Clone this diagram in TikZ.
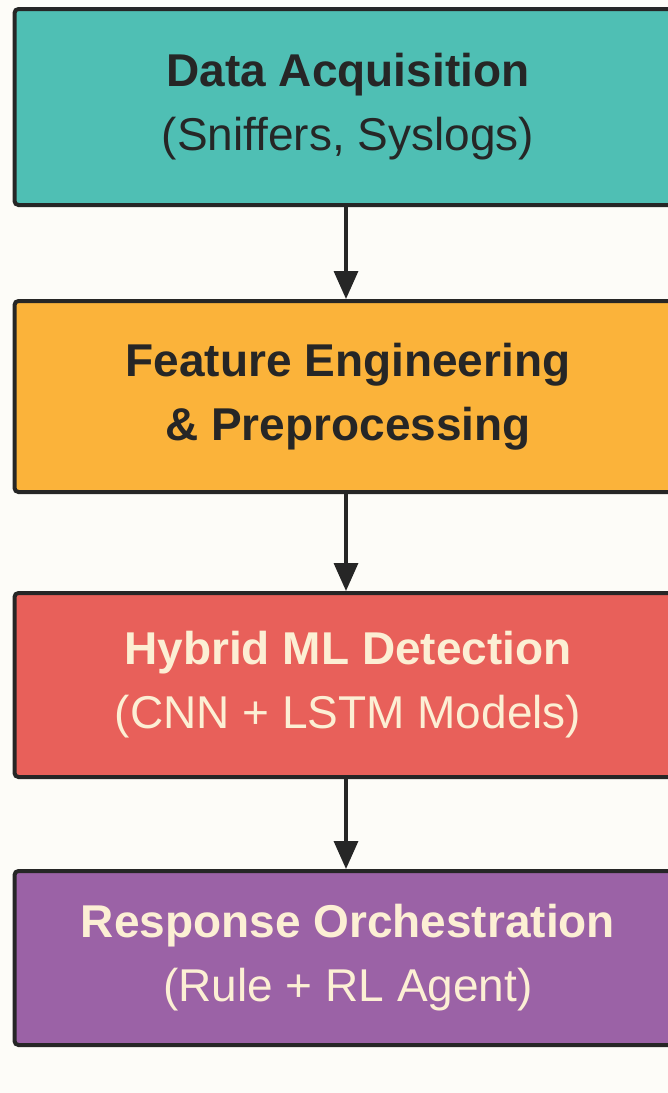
\documentclass[tikz,border=0pt]{standalone}
\usepackage{fontspec}
\setmainfont{Liberation Sans}
\usetikzlibrary{arrows.meta}

\definecolor{paper}{HTML}{FDFCF8}
\definecolor{edge}{HTML}{262626}
\definecolor{tealbox}{HTML}{4FBFB4}
\definecolor{orangebox}{HTML}{FBB33A}
\definecolor{redbox}{HTML}{E8605A}
\definecolor{purplebox}{HTML}{9B62A6}
\definecolor{cream}{HTML}{FCEFD4}

\begin{document}
\begin{tikzpicture}[
    x=0.5pt, y=-0.5pt,
    stage/.style={rectangle, rounded corners=2pt, draw=edge, line width=2pt,
                  minimum width=333.5pt, text centered, align=center,
                  font=\fontsize{23}{32}\selectfont, text=edge},
    flow/.style={draw=edge, line width=1.7pt, -{Triangle[width=12pt,length=14pt]}}
]

% Page
\fill[paper] (0,0) rectangle (668,1093);
\useasboundingbox (0,0) rectangle (668,1093);

% Stages
\node[stage, fill=tealbox, minimum height=98pt] (acq) at (348,107)
    {\textbf{Data Acquisition}\\(Sniffers, Syslogs)};
\node[stage, fill=orangebox, minimum height=95.5pt] (feat) at (348,396.5)
    {\textbf{Feature Engineering}\\\textbf{\& Preprocessing}};
\node[stage, fill=redbox, minimum height=92pt, text=cream] (detect) at (348,685)
    {\textbf{Hybrid ML Detection}\\(CNN + LSTM Models)};
\node[stage, fill=purplebox, minimum height=87pt, text=cream] (resp) at (348,958)
    {\textbf{Response Orchestration}\\(Rule + RL Agent)};

% Arrows
\draw[flow] ([xshift=-1pt]acq.south) -- ([xshift=-1pt]feat.north);
\draw[flow] ([xshift=-1pt]feat.south) -- ([xshift=-1pt]detect.north);
\draw[flow] ([xshift=-1pt]detect.south) -- ([xshift=-1pt]resp.north);

\end{tikzpicture}
\end{document}
